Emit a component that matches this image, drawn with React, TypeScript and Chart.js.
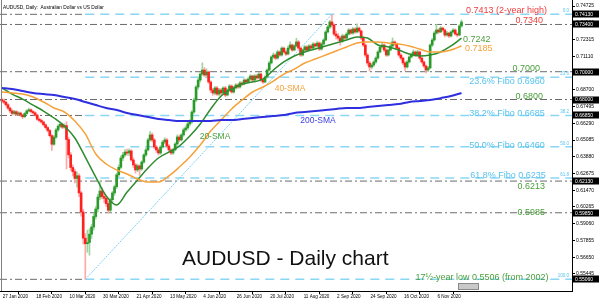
import React, { useEffect, useRef } from "react";
import { Chart, registerables } from "chart.js";

Chart.register(...registerables);

// ---- data ----
const dateLabels = ["27 Jan 2020", "18 Feb 2020", "10 Mar 2020", "30 Mar 2020", "21 Apr 2020", "13 May 2020", "4 Jun 2020", "26 Jun 2020", "20 Jul 2020", "11 Aug 2020", "2 Sep 2020", "24 Sep 2020", "16 Oct 2020", "6 Nov 2020"];
const dateTickIdx = [0, 16, 32, 48, 64, 80, 96, 112, 128, 144, 160, 176, 192, 208];
const priceTicks = [0.55445, 0.5665, 0.57855, 0.5906, 0.60265, 0.6147, 0.62675, 0.6388, 0.65085, 0.6629, 0.67495, 0.687, 0.69905, 0.7111, 0.72315, 0.7352, 0.74725];

const openP = [
  0.6800, 0.6790, 0.6781, 0.6762, 0.6738, 0.6718, 0.6700, 0.6712, 0.6694, 0.6703,
  0.6688, 0.6676, 0.6699, 0.6718, 0.6726, 0.6713, 0.6704, 0.6688, 0.6658, 0.6649,
  0.6638, 0.6618, 0.6598, 0.6577, 0.6540, 0.6478, 0.6529, 0.6581, 0.6608, 0.6622,
  0.6601, 0.6612, 0.6512, 0.6402, 0.6311, 0.6281, 0.6232, 0.6251, 0.6128, 0.5991,
  0.5802, 0.5762, 0.5771, 0.5831, 0.5882, 0.5958, 0.6012, 0.6098, 0.6141, 0.6102,
  0.6089, 0.6051, 0.6003, 0.6079, 0.6128, 0.6172, 0.6258, 0.6312, 0.6379, 0.6401,
  0.6422, 0.6415, 0.6430, 0.6365, 0.6329, 0.6293, 0.6322, 0.6300, 0.6350, 0.6401,
  0.6437, 0.6509, 0.6545, 0.6509, 0.6458, 0.6437, 0.6415, 0.6458, 0.6494, 0.6509,
  0.6465, 0.6437, 0.6415, 0.6437, 0.6480, 0.6530, 0.6509, 0.6545, 0.6581, 0.6595,
  0.6624, 0.6638, 0.6710, 0.6796, 0.6890, 0.6940, 0.6983, 0.7012, 0.6976, 0.6998,
  0.6926, 0.6868, 0.6847, 0.6883, 0.6839, 0.6868, 0.6847, 0.6883, 0.6832, 0.6868,
  0.6897, 0.6854, 0.6883, 0.6904, 0.6890, 0.6919, 0.6911, 0.6940, 0.6926, 0.6947,
  0.6969, 0.6940, 0.6969, 0.6955, 0.6983, 0.6940, 0.6926, 0.6962, 0.7012, 0.7063,
  0.7106, 0.7120, 0.7098, 0.7142, 0.7120, 0.7170, 0.7142, 0.7127, 0.7170, 0.7192,
  0.7156, 0.7185, 0.7214, 0.7170, 0.7120, 0.7156, 0.7178, 0.7156, 0.7185, 0.7170,
  0.7199, 0.7185, 0.7206, 0.7163, 0.7199, 0.7228, 0.7286, 0.7322, 0.7358, 0.7336,
  0.7271, 0.7257, 0.7242, 0.7221, 0.7257, 0.7242, 0.7271, 0.7300, 0.7278, 0.7307,
  0.7286, 0.7314, 0.7293, 0.7242, 0.7192, 0.7120, 0.7063, 0.7034, 0.7048, 0.7070,
  0.7098, 0.7142, 0.7178, 0.7192, 0.7156, 0.7120, 0.7156, 0.7185, 0.7214, 0.7199,
  0.7170, 0.7120, 0.7098, 0.7063, 0.7034, 0.7070, 0.7106, 0.7120, 0.7142, 0.7120,
  0.7142, 0.7098, 0.7070, 0.7041, 0.7012, 0.7027, 0.7192, 0.7228, 0.7278, 0.7300,
  0.7286, 0.7314, 0.7300, 0.7264, 0.7278, 0.7257, 0.7286, 0.7300, 0.7271, 0.7264,
  0.7329,
];
const highP = [
  0.6812, 0.6803, 0.6790, 0.6770, 0.6745, 0.6726, 0.6722, 0.6720, 0.6713, 0.6710,
  0.6695, 0.6707, 0.6727, 0.6738, 0.6732, 0.6720, 0.6712, 0.6695, 0.6668, 0.6660,
  0.6645, 0.6625, 0.6605, 0.6585, 0.6548, 0.6540, 0.6592, 0.6620, 0.6635, 0.6630,
  0.6625, 0.6640, 0.6530, 0.6420, 0.6330, 0.6300, 0.6280, 0.6265, 0.6140, 0.6010,
  0.5835, 0.5860, 0.5870, 0.5900, 0.5975, 0.6030, 0.6120, 0.6213, 0.6165, 0.6130,
  0.6105, 0.6070, 0.6090, 0.6140, 0.6185, 0.6270, 0.6330, 0.6395, 0.6420, 0.6440,
  0.6444, 0.6445, 0.6440, 0.6380, 0.6340, 0.6335, 0.6330, 0.6360, 0.6410, 0.6450,
  0.6520, 0.6570, 0.6560, 0.6520, 0.6470, 0.6450, 0.6468, 0.6505, 0.6525, 0.6520,
  0.6475, 0.6445, 0.6450, 0.6490, 0.6545, 0.6545, 0.6555, 0.6595, 0.6610, 0.6640,
  0.6655, 0.6720, 0.6810, 0.6900, 0.6955, 0.6995, 0.7064, 0.7030, 0.7020, 0.7005,
  0.6935, 0.6880, 0.6895, 0.6895, 0.6880, 0.6880, 0.6892, 0.6895, 0.6878, 0.6908,
  0.6905, 0.6895, 0.6915, 0.6912, 0.6930, 0.6928, 0.6950, 0.6948, 0.6960, 0.6978,
  0.6975, 0.6980, 0.6980, 0.6995, 0.6990, 0.6950, 0.6970, 0.7020, 0.7075, 0.7115,
  0.7135, 0.7130, 0.7155, 0.7150, 0.7180, 0.7178, 0.7152, 0.7185, 0.7215, 0.7200,
  0.7195, 0.7240, 0.7225, 0.7180, 0.7165, 0.7190, 0.7186, 0.7196, 0.7195, 0.7210,
  0.7208, 0.7220, 0.7215, 0.7210, 0.7238, 0.7295, 0.7335, 0.7370, 0.7413, 0.7345,
  0.7290, 0.7275, 0.7255, 0.7270, 0.7265, 0.7282, 0.7310, 0.7308, 0.7318, 0.7315,
  0.7345, 0.7322, 0.7300, 0.7250, 0.7200, 0.7130, 0.7075, 0.7060, 0.7080, 0.7108,
  0.7152, 0.7188, 0.7209, 0.7200, 0.7165, 0.7165, 0.7195, 0.7243, 0.7222, 0.7208,
  0.7178, 0.7130, 0.7105, 0.7072, 0.7080, 0.7115, 0.7135, 0.7158, 0.7150, 0.7155,
  0.7150, 0.7108, 0.7078, 0.7050, 0.7038, 0.7200, 0.7240, 0.7290, 0.7340, 0.7310,
  0.7325, 0.7322, 0.7308, 0.7290, 0.7285, 0.7295, 0.7310, 0.7308, 0.7280, 0.7340,
  0.7372,
];
const lowP = [
  0.6778, 0.6770, 0.6752, 0.6728, 0.6705, 0.6688, 0.6690, 0.6683, 0.6686, 0.6678,
  0.6662, 0.6670, 0.6692, 0.6710, 0.6704, 0.6695, 0.6680, 0.6650, 0.6638, 0.6628,
  0.6608, 0.6588, 0.6565, 0.6530, 0.6434, 0.6470, 0.6520, 0.6570, 0.6598, 0.6590,
  0.6592, 0.6300, 0.6380, 0.6290, 0.6250, 0.6200, 0.6170, 0.6100, 0.5960, 0.5760,
  0.5506, 0.5700, 0.5680, 0.5800, 0.5860, 0.5940, 0.5990, 0.6080, 0.6085, 0.6060,
  0.6030, 0.5985, 0.5990, 0.6065, 0.6110, 0.6160, 0.6245, 0.6300, 0.6360, 0.6390,
  0.6400, 0.6395, 0.6355, 0.6310, 0.6270, 0.6280, 0.6253, 0.6290, 0.6340, 0.6390,
  0.6430, 0.6500, 0.6495, 0.6445, 0.6420, 0.6400, 0.6405, 0.6450, 0.6480, 0.6455,
  0.6425, 0.6403, 0.6405, 0.6430, 0.6470, 0.6495, 0.6500, 0.6535, 0.6570, 0.6585,
  0.6610, 0.6630, 0.6700, 0.6785, 0.6875, 0.6925, 0.6975, 0.6965, 0.6960, 0.6915,
  0.6850, 0.6830, 0.6835, 0.6830, 0.6825, 0.6833, 0.6838, 0.6820, 0.6825, 0.6860,
  0.6845, 0.6845, 0.6875, 0.6880, 0.6882, 0.6900, 0.6905, 0.6918, 0.6920, 0.6938,
  0.6930, 0.6933, 0.6945, 0.6948, 0.6930, 0.6915, 0.6920, 0.6955, 0.7005, 0.7055,
  0.7095, 0.7085, 0.7090, 0.7110, 0.7112, 0.7135, 0.7115, 0.7120, 0.7160, 0.7145,
  0.7150, 0.7178, 0.7160, 0.7110, 0.7112, 0.7148, 0.7145, 0.7150, 0.7160, 0.7165,
  0.7175, 0.7178, 0.7152, 0.7155, 0.7190, 0.7220, 0.7278, 0.7310, 0.7320, 0.7260,
  0.7235, 0.7225, 0.7190, 0.7210, 0.7230, 0.7235, 0.7262, 0.7268, 0.7270, 0.7275,
  0.7280, 0.7282, 0.7230, 0.7180, 0.7105, 0.7045, 0.7005, 0.7020, 0.7035, 0.7060,
  0.7090, 0.7135, 0.7170, 0.7145, 0.7110, 0.7112, 0.7150, 0.7178, 0.7188, 0.7160,
  0.7110, 0.7085, 0.7050, 0.7010, 0.7025, 0.7062, 0.7098, 0.7112, 0.7110, 0.7115,
  0.7088, 0.7060, 0.7030, 0.6991, 0.7000, 0.7020, 0.7180, 0.7220, 0.7270, 0.7275,
  0.7280, 0.7290, 0.7250, 0.7255, 0.7245, 0.7250, 0.7280, 0.7262, 0.7250, 0.7258,
  0.7320,
];
const closeP = [
  0.6790, 0.6781, 0.6762, 0.6738, 0.6718, 0.6700, 0.6712, 0.6694, 0.6703, 0.6688,
  0.6676, 0.6699, 0.6718, 0.6726, 0.6713, 0.6704, 0.6688, 0.6658, 0.6649, 0.6638,
  0.6618, 0.6598, 0.6577, 0.6540, 0.6478, 0.6529, 0.6581, 0.6608, 0.6622, 0.6601,
  0.6612, 0.6512, 0.6402, 0.6311, 0.6281, 0.6232, 0.6251, 0.6128, 0.5991, 0.5802,
  0.5762, 0.5771, 0.5831, 0.5882, 0.5958, 0.6012, 0.6098, 0.6141, 0.6102, 0.6089,
  0.6051, 0.6003, 0.6079, 0.6128, 0.6172, 0.6258, 0.6312, 0.6379, 0.6401, 0.6422,
  0.6415, 0.6430, 0.6365, 0.6329, 0.6293, 0.6322, 0.6300, 0.6350, 0.6401, 0.6437,
  0.6509, 0.6545, 0.6509, 0.6458, 0.6437, 0.6415, 0.6458, 0.6494, 0.6509, 0.6465,
  0.6437, 0.6415, 0.6437, 0.6480, 0.6530, 0.6509, 0.6545, 0.6581, 0.6595, 0.6624,
  0.6638, 0.6710, 0.6796, 0.6890, 0.6940, 0.6983, 0.7012, 0.6976, 0.6998, 0.6926,
  0.6868, 0.6847, 0.6883, 0.6839, 0.6868, 0.6847, 0.6883, 0.6832, 0.6868, 0.6897,
  0.6854, 0.6883, 0.6904, 0.6890, 0.6919, 0.6911, 0.6940, 0.6926, 0.6947, 0.6969,
  0.6940, 0.6969, 0.6955, 0.6983, 0.6940, 0.6926, 0.6962, 0.7012, 0.7063, 0.7106,
  0.7120, 0.7098, 0.7142, 0.7120, 0.7170, 0.7142, 0.7127, 0.7170, 0.7192, 0.7156,
  0.7185, 0.7214, 0.7170, 0.7120, 0.7156, 0.7178, 0.7156, 0.7185, 0.7170, 0.7199,
  0.7185, 0.7206, 0.7163, 0.7199, 0.7228, 0.7286, 0.7322, 0.7358, 0.7336, 0.7271,
  0.7257, 0.7242, 0.7221, 0.7257, 0.7242, 0.7271, 0.7300, 0.7278, 0.7307, 0.7286,
  0.7314, 0.7293, 0.7242, 0.7192, 0.7120, 0.7063, 0.7034, 0.7048, 0.7070, 0.7098,
  0.7142, 0.7178, 0.7192, 0.7156, 0.7120, 0.7156, 0.7185, 0.7214, 0.7199, 0.7170,
  0.7120, 0.7098, 0.7063, 0.7034, 0.7070, 0.7106, 0.7120, 0.7142, 0.7120, 0.7142,
  0.7098, 0.7070, 0.7041, 0.7012, 0.7027, 0.7192, 0.7228, 0.7278, 0.7300, 0.7286,
  0.7314, 0.7300, 0.7264, 0.7278, 0.7257, 0.7286, 0.7300, 0.7271, 0.7264, 0.7329,
  0.7358,
];

const smaIdx = [0, 5, 10, 15, 20, 25, 30, 35, 40, 45, 50, 55, 60, 65, 70, 75, 80, 85, 90, 95, 100, 105, 110, 115, 120, 125, 130, 135, 140, 145, 150, 155, 160, 165, 170, 175, 180, 185, 190, 195, 200, 205, 210, 215, 220];
const sma20 = [0.6885, 0.6839, 0.6803, 0.6760, 0.6717, 0.6667, 0.6609, 0.6523, 0.6386, 0.6242, 0.6106, 0.6041, 0.6134, 0.6221, 0.6307, 0.6379, 0.6422, 0.6465, 0.6537, 0.6624, 0.6732, 0.6825, 0.6875, 0.6911, 0.6926, 0.6947, 0.7012, 0.7070, 0.7113, 0.7142, 0.7163, 0.7185, 0.7206, 0.7228, 0.7250, 0.7242, 0.7192, 0.7178, 0.7156, 0.7127, 0.7113, 0.7120, 0.7142, 0.7185, 0.7242];
const sma40 = [0.6854, 0.6847, 0.6839, 0.6818, 0.6782, 0.6739, 0.6710, 0.6645, 0.6552, 0.6408, 0.6336, 0.6293, 0.6264, 0.6228, 0.6206, 0.6206, 0.6250, 0.6314, 0.6386, 0.6472, 0.6573, 0.6652, 0.6732, 0.6796, 0.6854, 0.6890, 0.6933, 0.6983, 0.7019, 0.7063, 0.7091, 0.7120, 0.7149, 0.7178, 0.7206, 0.7214, 0.7214, 0.7206, 0.7199, 0.7185, 0.7163, 0.7142, 0.7142, 0.7156, 0.7185];
const sma200 = [0.6883, 0.6875, 0.6861, 0.6847, 0.6839, 0.6832, 0.6818, 0.6803, 0.6782, 0.6760, 0.6739, 0.6724, 0.6703, 0.6688, 0.6674, 0.6659, 0.6652, 0.6645, 0.6645, 0.6645, 0.6645, 0.6652, 0.6652, 0.6659, 0.6667, 0.6674, 0.6681, 0.6688, 0.6703, 0.6710, 0.6717, 0.6724, 0.6732, 0.6739, 0.6739, 0.6746, 0.6753, 0.6760, 0.6767, 0.6782, 0.6789, 0.6796, 0.6810, 0.6825, 0.6847];

const levelLines = [0.7413, 0.7340, 0.7000, 0.6800, 0.6685, 0.6213, 0.5985, 0.5506];
const fibLevels = [0.7413, 0.6960, 0.6685, 0.6460, 0.6235, 0.5506];
const fibPct = ["0.0", "23.6", "38.2", "50.0", "61.8", "100.0"];
const fibLowIdx = 40;
const fibHighIdx = 158;
const fibLow = 0.5506;
const fibHigh = 0.7413;

// ---- styles ----
const FONT = "'Liberation Sans', Arial, sans-serif";
const UP = "#2a9a2a";
const DOWN = "#ff2020";
const UP_W = "#9ed59e";
const DOWN_W = "#ffa8a8";
const GREEN_T = "#4b9e3c";
const RED_T = "#f03c3c";
const ORANGE = "#f6a23a";
const FIB = "#8ad6f5";
const FIB_T = "#55c2ee";
const X_MIN = -0.8134;
const X_MAX = 272.87;

export default function App() {
  const ref = useRef<HTMLCanvasElement | null>(null);

  useEffect(() => {
    const canvas = ref.current;
    if (!canvas) return;
    const idx = closeP.map((_, i) => i);
    const isUp = idx.map((i) => closeP[i] >= openP[i]);

    const hLines: any[] = levelLines.map((v) => ({
      type: "line",
      data: [
        { x: X_MIN, y: v },
        { x: fibLevels.includes(v) ? fibLowIdx : X_MAX, y: v },
      ],
      borderColor: "#6b6b6b",
      borderWidth: 1,
      borderDash: [7, 3, 2, 3],
      pointRadius: 0,
      order: 10,
    }));
    const fLines: any[] = fibLevels.map((v) => ({
      type: "line",
      data: [
        { x: fibLowIdx, y: v },
        { x: X_MAX, y: v },
      ],
      borderColor: FIB,
      borderWidth: 1.5,
      borderDash: [9, 6],
      pointRadius: 0,
      order: 9,
    }));

    const smaLine = (vals: number[], color: string, w: number) => ({
      type: "line",
      data: smaIdx.map((x, k) => ({ x, y: vals[k] })),
      borderColor: color,
      borderWidth: w,
      pointRadius: 0,
      cubicInterpolationMode: "monotone",
      order: 1,
    });

    const textPlugin = {
      id: "texts",
      afterDraw(chart: any) {
        const { ctx } = chart;
        const y = chart.scales.y;
        const py = (v: number) => y.getPixelForValue(v);
        const txt = (s: string, x: number, yy: number, color: string, size: number, align: CanvasTextAlign = "left", base: CanvasTextBaseline = "alphabetic") => {
          ctx.font = `${size}px ${FONT}`;
          ctx.fillStyle = color;
          ctx.textAlign = align;
          ctx.textBaseline = base;
          ctx.fillText(s, x, yy);
        };
        ctx.save();
        // left border
        ctx.strokeStyle = "#808080";
        ctx.lineWidth = 1;
        ctx.beginPath();
        ctx.moveTo(1.5, 0);
        ctx.lineTo(1.5, chart.chartArea.bottom);
        ctx.stroke();

        txt("AUDUSD, Daily:  Australian Dollar vs US Dollar", 3, 8.5, "#000", 4.8);

        txt("0.7413 (2-year high)", 547, py(0.7413) - 1.5, RED_T, 9, "right");
        txt("0.7340", 543, py(0.734) - 1, RED_T, 9, "right");
        txt("0.7242", 463, 40, GREEN_T, 9, "left", "middle");
        txt("0.7185", 465, 48.5, ORANGE, 9, "left", "middle");
        txt("0.7000", 540, py(0.7) - 1, GREEN_T, 9, "right");
        txt("23.6% Fibo 0.6960", 507, py(0.696) + 7, FIB_T, 9, "center");
        txt("0.6800", 543, py(0.68) - 1, GREEN_T, 9, "right");
        txt("38.2% Fibo 0.6685", 507, py(0.6685) + 1, FIB_T, 9, "center");
        txt("50.0% Fibo 0.6460", 507, py(0.646) + 1, FIB_T, 9, "center");
        txt("61.8% Fibo 0.6235", 508, py(0.6235) - 0.5, FIB_T, 9, "center");
        txt("0.6213", 545, py(0.6213) + 8, GREEN_T, 9, "right");
        txt("0.5985", 545, py(0.5985) + 2, GREEN_T, 9, "right");
        txt("17½-year low 0.5506 (from 2002)", 482, py(0.5506) + 1, GREEN_T, 9, "center");

        txt("20-SMA", 215, 137, GREEN_T, 8.5, "center", "middle");
        txt("40-SMA", 290, 88.5, ORANGE, 8.5, "center", "middle");
        txt("200-SMA", 318, 120.5, "#3b3be6", 8.5, "center", "middle");

        txt("AUDUSD - Daily chart", 182, 265, "#111", 21);

        fibLevels.forEach((v, k) => {
          txt(fibPct[k], 569, py(v) - 2, FIB_T, 4.5, "right");
        });

        // price boxes on the right axis
        levelLines.forEach((v) => {
          const yy = py(v);
          ctx.fillStyle = "#000";
          ctx.fillRect(573, Math.round(yy) - 3.5, 26, 7);
          txt(v.toFixed(5), 575, yy + 0.5, "#fff", 5, "left", "middle");
        });

        // small time box
        ctx.fillStyle = "#c9c9c9";
        ctx.strokeStyle = "#8a8a8a";
        ctx.fillRect(458.5, 283.5, 20, 6);
        ctx.strokeRect(458.5, 283.5, 20, 6);
        ctx.restore();
      },
    };

    const chart = new Chart(canvas, {
      type: "bar",
      data: {
        datasets: [
          ...hLines,
          ...fLines,
          {
            type: "line",
            data: [
              { x: fibLowIdx, y: fibLow },
              { x: fibHighIdx, y: fibHigh },
            ],
            borderColor: "#7fd0f3",
            borderWidth: 1,
            borderDash: [2, 1],
            pointRadius: 0,
            order: 8,
          },
          {
            type: "bar",
            data: idx.map((i) => ({ x: i, y: [lowP[i], highP[i]] })),
            backgroundColor: idx.map((i) => (isUp[i] ? UP_W : DOWN_W)),
            barThickness: 1,
            grouped: false,
            borderWidth: 0,
            order: 4,
          },
          {
            type: "bar",
            data: idx.map((i) => ({ x: i, y: [openP[i], closeP[i]] })),
            backgroundColor: idx.map((i) => (isUp[i] ? UP : DOWN)),
            barThickness: 2,
            grouped: false,
            borderWidth: 0,
            order: 3,
          },
          smaLine(sma200, "#2f2fe0", 2),
          smaLine(sma40, ORANGE, 1.5),
          smaLine(sma20, "#2e8b2e", 1.5),
        ] as any,
      },
      options: {
        responsive: false,
        animation: false,
        devicePixelRatio: 1,
        events: [],
        layout: { padding: 0 },
        plugins: { legend: { display: false }, tooltip: { enabled: false } },
        scales: {
          x: {
            type: "linear",
            min: X_MIN,
            max: X_MAX,
            offset: false,
            position: "bottom",
            border: { display: true, color: "#000", width: 1 },
            grid: { display: true, drawOnChartArea: false, drawTicks: true, tickLength: 3, color: "#000" },
            ticks: {
              autoSkip: false,
              maxRotation: 0,
              align: "start",
              padding: 0,
              labelOffset: 1,
              color: "#000",
              font: { size: 4.6, family: FONT },
              callback: (_v: any, i: number) => dateLabels[i],
            },
            afterBuildTicks: (s: any) => {
              s.ticks = dateTickIdx.map((v) => ({ value: v }));
            },
            afterFit: (s: any) => {
              s.height = 11;
              s.paddingLeft = 0;
              s.paddingRight = 0;
            },
          },
          y: {
            type: "linear",
            position: "right",
            min: 0.5422,
            max: 0.7516,
            border: { display: true, color: "#000", width: 1 },
            grid: { display: true, drawOnChartArea: false, drawTicks: true, tickLength: 3, color: "#000" },
            ticks: {
              padding: 1,
              color: "#000",
              font: { size: 5, family: FONT },
              callback: (v: any) => Number(v).toFixed(5),
            },
            afterBuildTicks: (s: any) => {
              s.ticks = priceTicks.map((v) => ({ value: v }));
            },
            afterFit: (s: any) => {
              s.width = 28;
              s.paddingTop = 0;
              s.paddingBottom = 0;
            },
          },
        },
      } as any,
      plugins: [textPlugin],
    });
    return () => chart.destroy();
  }, []);

  return (
    <div style={{ position: "absolute", left: 0, top: 0, width: 600, height: 302, background: "#fff" }}>
      <canvas ref={ref} width={600} height={302} style={{ display: "block", width: 600, height: 302 }} />
    </div>
  );
}
